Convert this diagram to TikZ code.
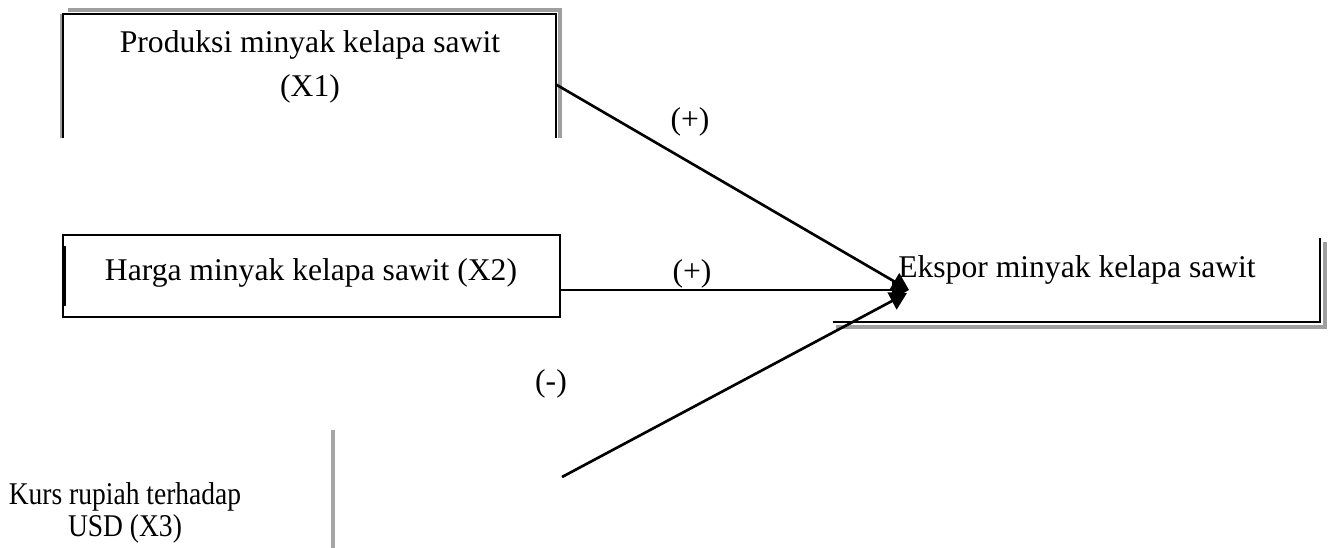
\documentclass[tikz,border=0pt]{standalone}
\usepackage{fontspec}
\setmainfont{Liberation Serif}
\usetikzlibrary{calc,arrows.meta}
\begin{document}
\begin{tikzpicture}[x=0.02cm,y=-0.02cm,
  every node/.style={font=\fontsize{18}{25}\selectfont},
  frame/.style={draw=none,inner sep=0pt},
  edge/.style={line width=1.3pt,black},
  shd/.style={line width=2.2pt,gray!75},
  conn/.style={line width=1.5pt,black,-{Triangle[length=0.34cm,width=0.38cm]}},
  lbl/.style={inner sep=1pt}]
\useasboundingbox[fill=white] (0,0) rectangle (1330,548);
% X1 box (open at bottom)
\node[frame,minimum width=9.86cm,minimum height=2.48cm] (x1) at (309.5,76) {};
\node[lbl,align=center] (x1t) at (310,67) {Produksi minyak kelapa sawit\\(X1)};
\draw[shd] ($(x1.north west)+(5,-4)$) -- ($(x1.north east)+(4,-4)$) -- ($(x1.south east)+(4,0)$);
\draw[shd,line width=1pt] ($(x1.north west)+(-2,0)$) -- ($(x1.south west)+(-2,0)$);
\draw[edge] (x1.south west) -- (x1.north west) -- (x1.north east) -- (x1.south east);
% X2 box
\node[draw,line width=1.2pt,minimum width=9.94cm,minimum height=1.64cm,inner sep=0pt] (x2) at (311.5,276) {};
\node[lbl] (x2t) at (311,273) {Harga minyak kelapa sawit (X2)};
\draw[line width=1.6pt] ($(x2.west)+(3,-30)$) -- ($(x2.west)+(3,30)$);
% Ekspor box (right and bottom edges)
\node[frame,minimum width=9.74cm,minimum height=1.66cm] (ek) at (1076.5,280) {};
\node[lbl] (ekt) at (1077,270) {Ekspor minyak kelapa sawit};
\draw[shd] ($(ek.south west)+(3,5)$) -- ($(ek.south east)+(5,5)$) -- ($(ek.north east)+(5,4)$);
\draw[edge] (ek.south west) -- (ek.south east) -- (ek.north east);
% X3 text and gray bar
\node[lbl,align=center,font=\fontsize{18}{18}\selectfont] (x3t) at (125,513) {\scalebox{0.87}[1]{Kurs rupiah terhadap}\\\scalebox{0.87}[1]{USD (X3)}};
\coordinate (g1) at (333,430);
\coordinate (g2) at (333,548);
\draw[line width=2.8pt,gray!70] (g1) -- (g2);
% connectors
\coordinate (tip) at (909,290);
\coordinate (x3s) at (562,477);
\draw[conn] ($(x1.north east)+(0,71)$) -- (tip);
\draw[conn] ($(x2.east)+(0,14)$) -- (tip);
\draw[conn] (x3s) -- ($(tip)+(-2,3)$);
% labels
\node[lbl] (l1) at (690,122) {(+)};
\node[lbl] (l2) at (692,274) {(+)};
\node[lbl] (l3) at (551,384) {(-)};
\end{tikzpicture}
\end{document}
